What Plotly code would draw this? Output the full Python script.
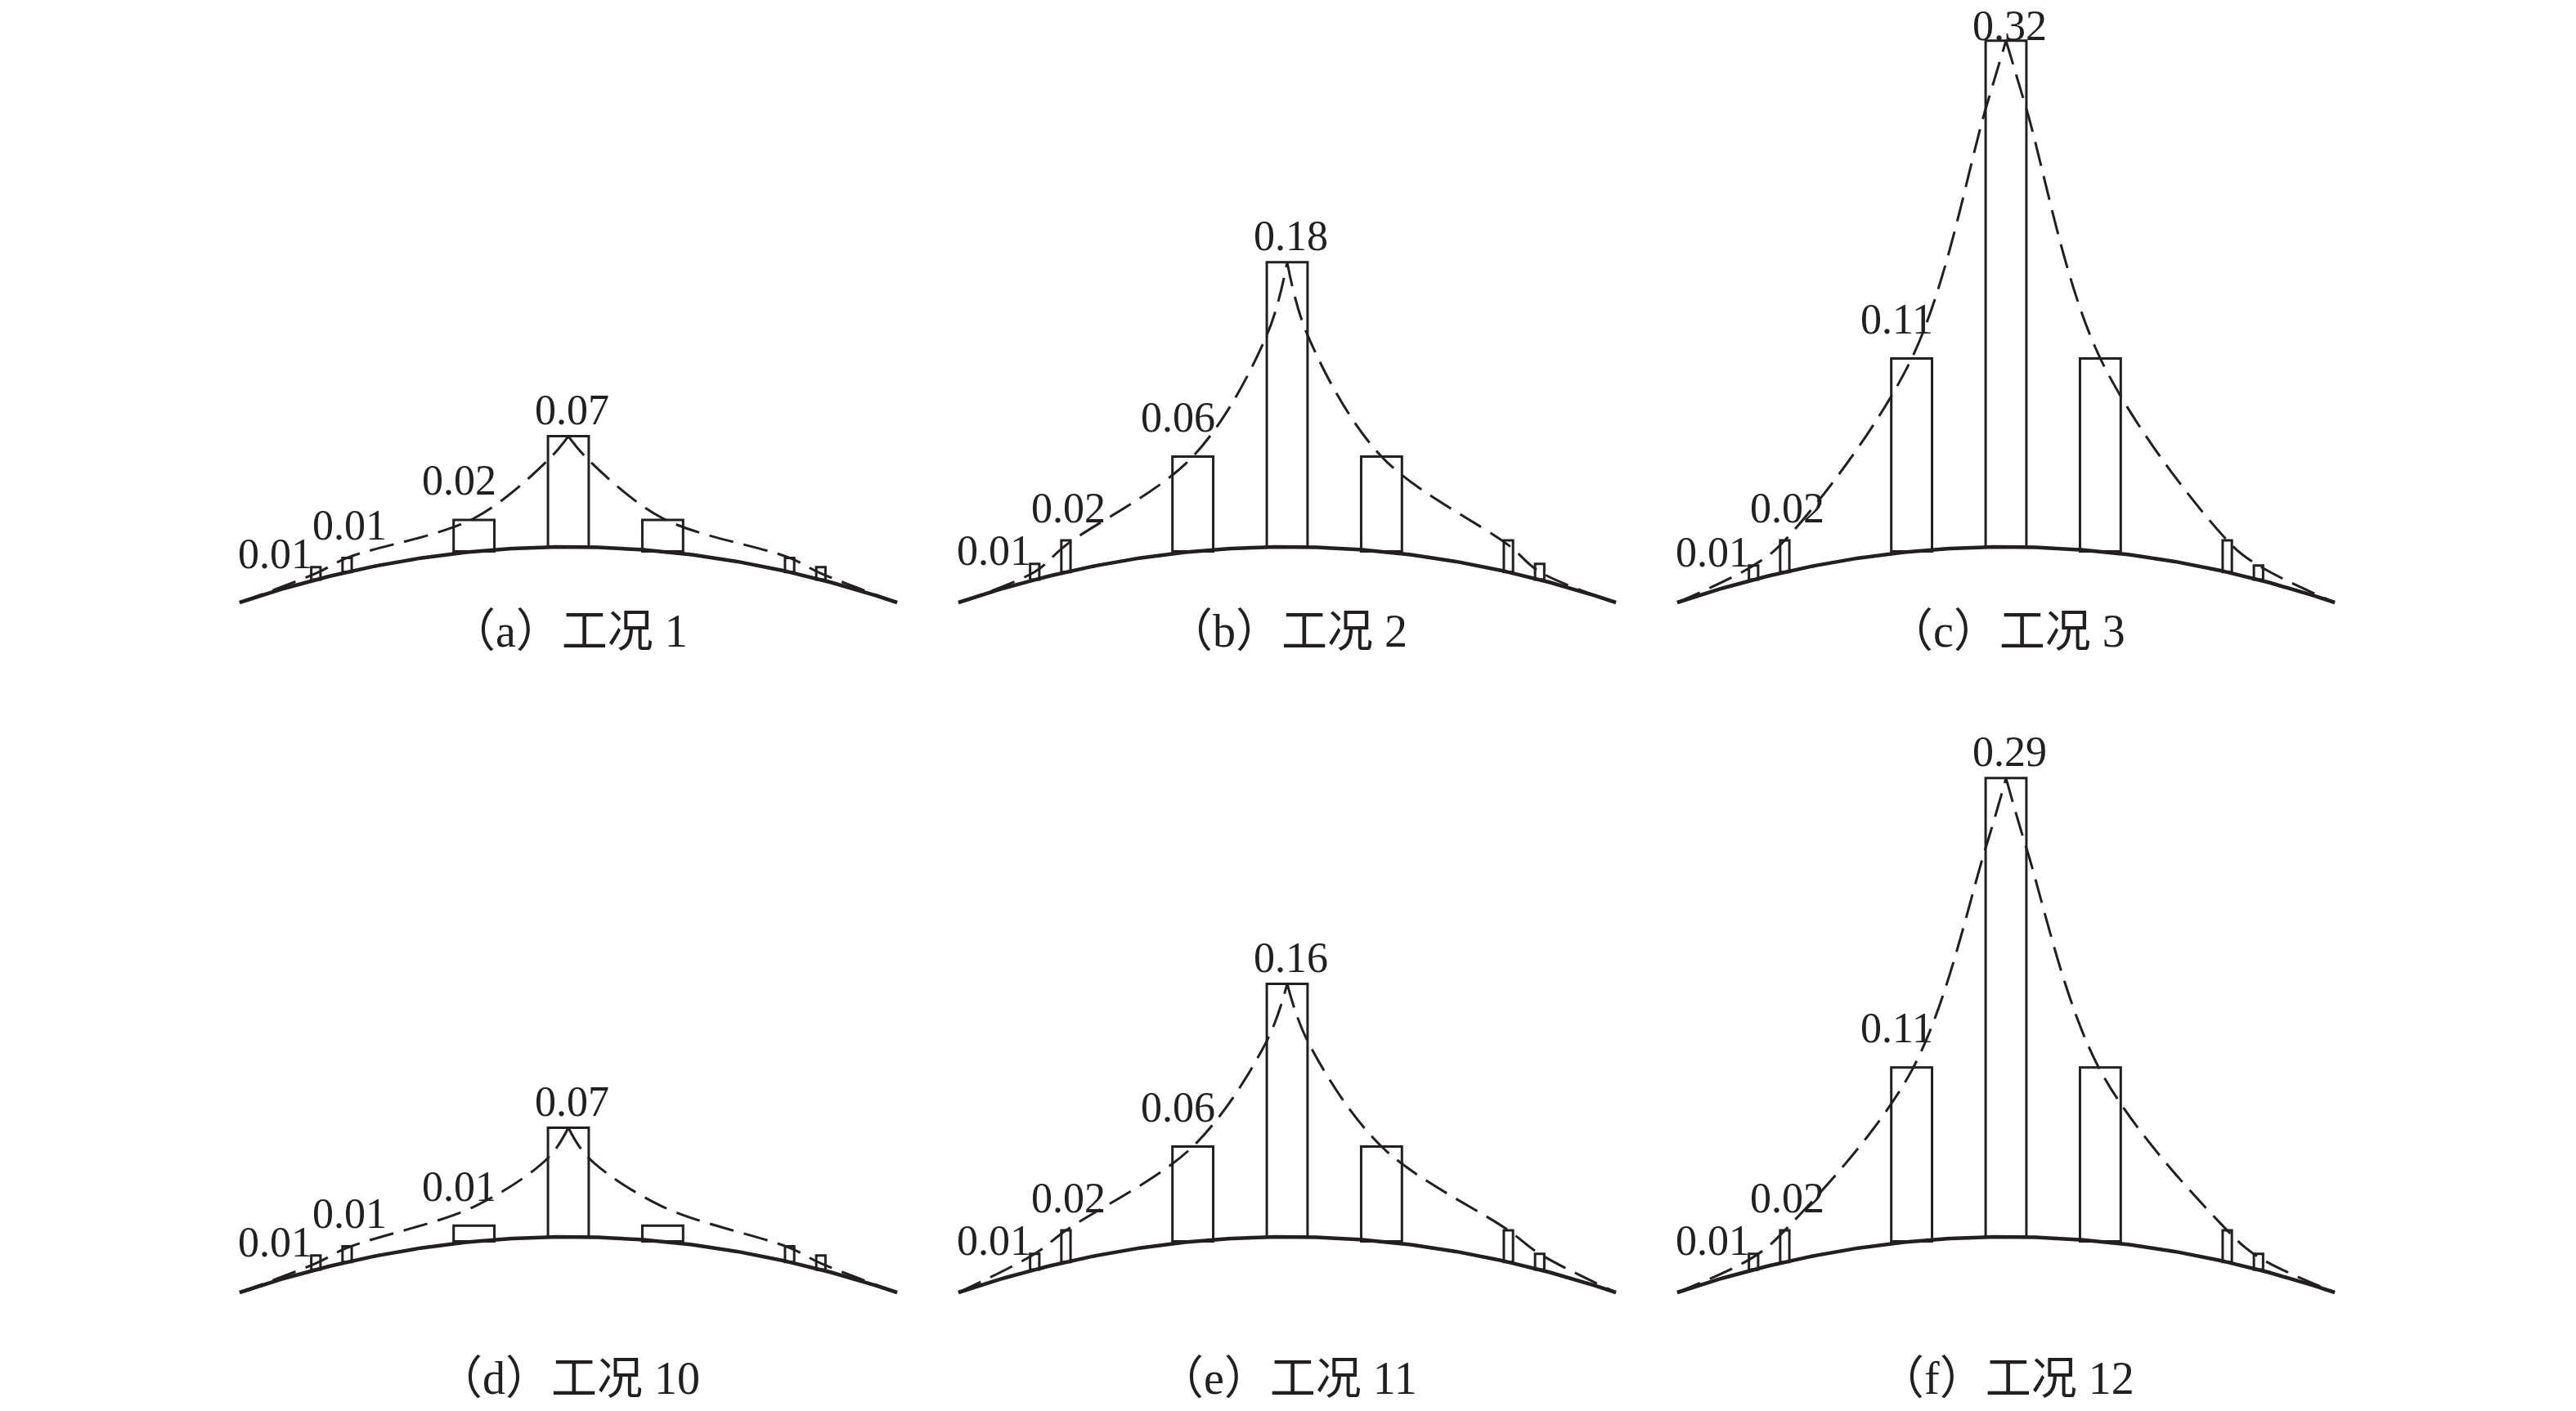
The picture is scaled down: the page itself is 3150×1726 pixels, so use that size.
import numpy as np
import plotly.graph_objects as go

W, H = 3150, 1726
PX_PER_UNIT = 1935.0          # vertical pixels per unit of value
HALF_SPAN_PX = 402.0          # half span of arch in pixels

# ---------------- data ----------------
captions = ["（a）工况 1", "（b）工况 2", "（c）工况 3",
            "（d）工况 10", "（e）工况 11", "（f）工况 12"]

# bar positions along span (normalised, -1 .. 1) and widths
bar_pos = [-0.768, -0.673, -0.287, 0.0, 0.287, 0.673, 0.768]
bar_wid = [0.028, 0.028, 0.124, 0.124, 0.124, 0.028, 0.028]

# bar heights
h_a = [0.008, 0.009, 0.020, 0.070, 0.020, 0.009, 0.008]
h_b = [0.010, 0.020, 0.060, 0.180, 0.060, 0.020, 0.010]
h_c = [0.009, 0.020, 0.122, 0.320, 0.122, 0.020, 0.009]
h_d = [0.009, 0.010, 0.010, 0.069, 0.010, 0.010, 0.009]
h_e = [0.010, 0.020, 0.060, 0.160, 0.060, 0.020, 0.010]
h_f = [0.010, 0.020, 0.110, 0.290, 0.110, 0.020, 0.010]
heights = [h_a, h_b, h_c, h_d, h_e, h_f]

# dashed envelope: heights above the arch read at these span positions (left half, mirrored)
env_pos = [-1.0, -0.768, -0.673, -0.287, -0.062, 0.0]
env_a = [0.0, 0.004, 0.009, 0.021, 0.055, 0.070]
env_b = [0.0, 0.005, 0.017, 0.060, 0.134, 0.180]
env_c = [0.0, 0.009, 0.020, 0.122, 0.277, 0.320]
env_d = [0.0, 0.004, 0.009, 0.022, 0.050, 0.069]
env_e = [0.0, 0.010, 0.020, 0.060, 0.124, 0.160]
env_f = [0.0, 0.008, 0.020, 0.108, 0.246, 0.290]
envelopes = [env_a, env_b, env_c, env_d, env_e, env_f]

# value labels (left half + centre)
lab_a = ["0.01", "0.01", "0.02", "0.07"]
lab_b = ["0.01", "0.02", "0.06", "0.18"]
lab_c = ["0.01", "0.02", "0.11", "0.32"]
lab_d = ["0.01", "0.01", "0.01", "0.07"]
lab_e = ["0.01", "0.02", "0.06", "0.16"]
lab_f = ["0.01", "0.02", "0.11", "0.29"]
labels = [lab_a, lab_b, lab_c, lab_d, lab_e, lab_f]

ARCH_RISE = 68.0 / PX_PER_UNIT

# ---------------- layout geometry ----------------
col_cx = [695, 1574, 2453]
row_base = [737, 1581]          # screen y of arch ends
row_top = [0, 860]
row_bot = [800, 1726]
cap_y = [772, 1686]

label_style = [  # xanchor, xshift, yshift
    ("right", -2, 16),
    ("center", 3, 40),
    ("center", -18, 48),
    ("center", 4, 32),
]

FONT_NUM = "Liberation Serif, Times New Roman, serif"
FONT_CAP = "Liberation Serif, Noto Sans CJK SC, serif"
INK = "#231F20"
NUM_SIZE = 52


def arch(p):
    return ARCH_RISE * (1 - p ** 2)


fig = go.Figure()
layout_axes = {}
u = np.linspace(-1, 1, 201)

for k in range(6):
    r, c = divmod(k, 3)
    idx = k + 1
    xa = "x" if idx == 1 else f"x{idx}"
    ya = "y" if idx == 1 else f"y{idx}"
    cx = col_cx[c]
    half = 438.0
    xr = half / HALF_SPAN_PX
    layout_axes["xaxis" if idx == 1 else f"xaxis{idx}"] = dict(
        domain=[(cx - half) / W, (cx + half) / W], range=[-xr, xr],
        visible=False, anchor=ya)
    y_top = (row_base[r] - row_top[r]) / PX_PER_UNIT
    y_bot = -(row_bot[r] - row_base[r]) / PX_PER_UNIT
    layout_axes["yaxis" if idx == 1 else f"yaxis{idx}"] = dict(
        domain=[1 - row_bot[r] / H, 1 - row_top[r] / H], range=[y_bot, y_top],
        visible=False, anchor=xa)

    hs = heights[k]
    base = [arch(p) for p in bar_pos]

    # bars standing on the arch
    fig.add_trace(go.Bar(
        x=bar_pos, y=hs, base=base, width=bar_wid,
        marker=dict(color="rgba(0,0,0,0)", line=dict(color=INK, width=3)),
        xaxis=xa, yaxis=ya, showlegend=False, hoverinfo="skip", cliponaxis=False))

    # arch
    fig.add_trace(go.Scatter(
        x=u, y=arch(u), mode="lines", line=dict(color=INK, width=4.5),
        xaxis=xa, yaxis=ya, showlegend=False, hoverinfo="skip", cliponaxis=False))

    # dashed envelope (left and right halves)
    env = envelopes[k]
    left_x = list(env_pos)
    left_y = [arch(p) + e for p, e in zip(env_pos, env)]
    right_x = [-p for p in env_pos[::-1]]
    right_y = left_y[::-1]
    for ex, ey in ((left_x, left_y), (right_x, right_y)):
        fig.add_trace(go.Scatter(
            x=ex, y=ey, mode="lines",
            line=dict(color=INK, width=3, dash="30px,13px", shape="spline", smoothing=1.0),
            xaxis=xa, yaxis=ya, showlegend=False, hoverinfo="skip", cliponaxis=False))

    # value labels
    tops = [b + h for b, h in zip(base, hs)]
    for i, txt in enumerate(labels[k]):
        xan, xs, ys = label_style[i]
        top_px = row_base[r] - tops[i] * PX_PER_UNIT - row_top[r]
        ys = min(ys, top_px - 32)
        fig.add_annotation(
            x=bar_pos[i], y=tops[i], xref=xa, yref=ya, text=txt, showarrow=False,
            xanchor=xan, yanchor="middle", xshift=xs, yshift=ys,
            font=dict(family=FONT_NUM, size=NUM_SIZE, color=INK))

    # caption
    fig.add_annotation(
        x=cx / W, y=1 - cap_y[r] / H, xref="paper", yref="paper",
        text=captions[k], showarrow=False, xanchor="center", yanchor="middle",
        font=dict(family=FONT_CAP, size=56, color=INK))

fig.update_layout(
    width=W, height=H, margin=dict(l=0, r=0, t=0, b=0),
    paper_bgcolor="white", plot_bgcolor="white",
    barmode="overlay", showlegend=False,
    **layout_axes)

fig.write_html("out.html", config={"displayModeBar": False},
               post_script="document.body.style.margin='0px';")
